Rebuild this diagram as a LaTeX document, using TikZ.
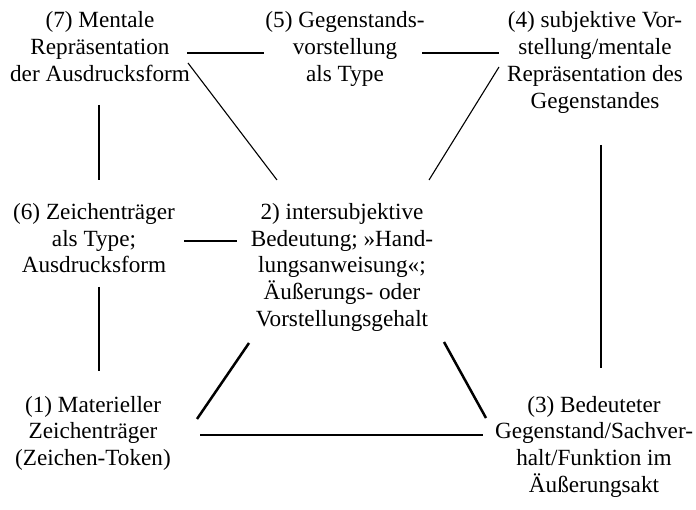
\documentclass[tikz,border=0pt]{standalone}
\usepackage{fontspec}
\setmainfont{Liberation Serif}
\begin{document}
\begin{tikzpicture}[x=1pt,y=-1pt,
  lbl/.style={align=center,inner sep=0pt,anchor=base,font=\fontsize{23.2}{26.7}\selectfont},
  thin/.style={line width=1.1pt},
  thick/.style={line width=2.5pt}]
\useasboundingbox (0,0) rectangle (696,510);
% anchor = baseline of the last line
\node[lbl] (n7) at (100,81.4) {(7) Mentale\\Repräsentation\\der Ausdrucksform};
\node[lbl] (n5) at (345,81.4) {(5) Gegenstands-\\vorstellung\\als Type};
\node[lbl] (n4) at (595,108.1) {(4) subjektive Vor-\\stellung/mentale\\Repräsentation des\\Gegenstandes};
\node[lbl] (n6) at (94,273) {(6) Zeichenträger\\als Type;\\Ausdrucksform};
\node[lbl] (n2) at (342,326.4) {2) intersubjektive\\Bedeutung; »Hand-\\lungsanweisung«;\\Äußerungs- oder\\Vorstellungsgehalt};
\node[lbl] (n1) at (93,465.4) {(1) Materieller\\Zeichenträger\\(Zeichen-Token)};
\node[lbl] (n3) at (594,492.1) {(3) Bedeuteter\\Gegenstand/Sachver-\\halt/Funktion im\\Äußerungsakt};
% connector end points
\coordinate (a7e) at (187,53);   \coordinate (a5w) at (264,53);
\coordinate (a5e) at (422,53);   \coordinate (a4w) at (499,53);
\coordinate (a7d) at (188,63);   \coordinate (a2nw) at (277,180);
\coordinate (a4d) at (499,67);   \coordinate (a2ne) at (429,180);
\coordinate (a7s) at (99,105);   \coordinate (a6n) at (99,180);
\coordinate (a4s) at (601,145);  \coordinate (a3n) at (601,368);
\coordinate (a6e) at (184,241);  \coordinate (a2w) at (237,241);
\coordinate (a6s) at (99,287);   \coordinate (a1n) at (99,371);
\coordinate (a2sw) at (249,343); \coordinate (a1ne) at (197,419);
\coordinate (a2se) at (444,342); \coordinate (a3nw) at (486,418);
\coordinate (a1e) at (200,435);  \coordinate (a3w) at (483,435);
\draw[thin] (a7e) -- (a5w);
\draw[thin] (a5e) -- (a4w);
\draw[thin] (a7d) -- (a2nw);
\draw[thin] (a4d) -- (a2ne);
\draw[thin] (a7s) -- (a6n);
\draw[thin] (a4s) -- (a3n);
\draw[thin] (a6e) -- (a2w);
\draw[thin] (a6s) -- (a1n);
\draw[thick] (a2sw) -- (a1ne);
\draw[thick] (a2se) -- (a3nw);
\draw[thick] (a1e) -- (a3w);
\end{tikzpicture}
\end{document}
